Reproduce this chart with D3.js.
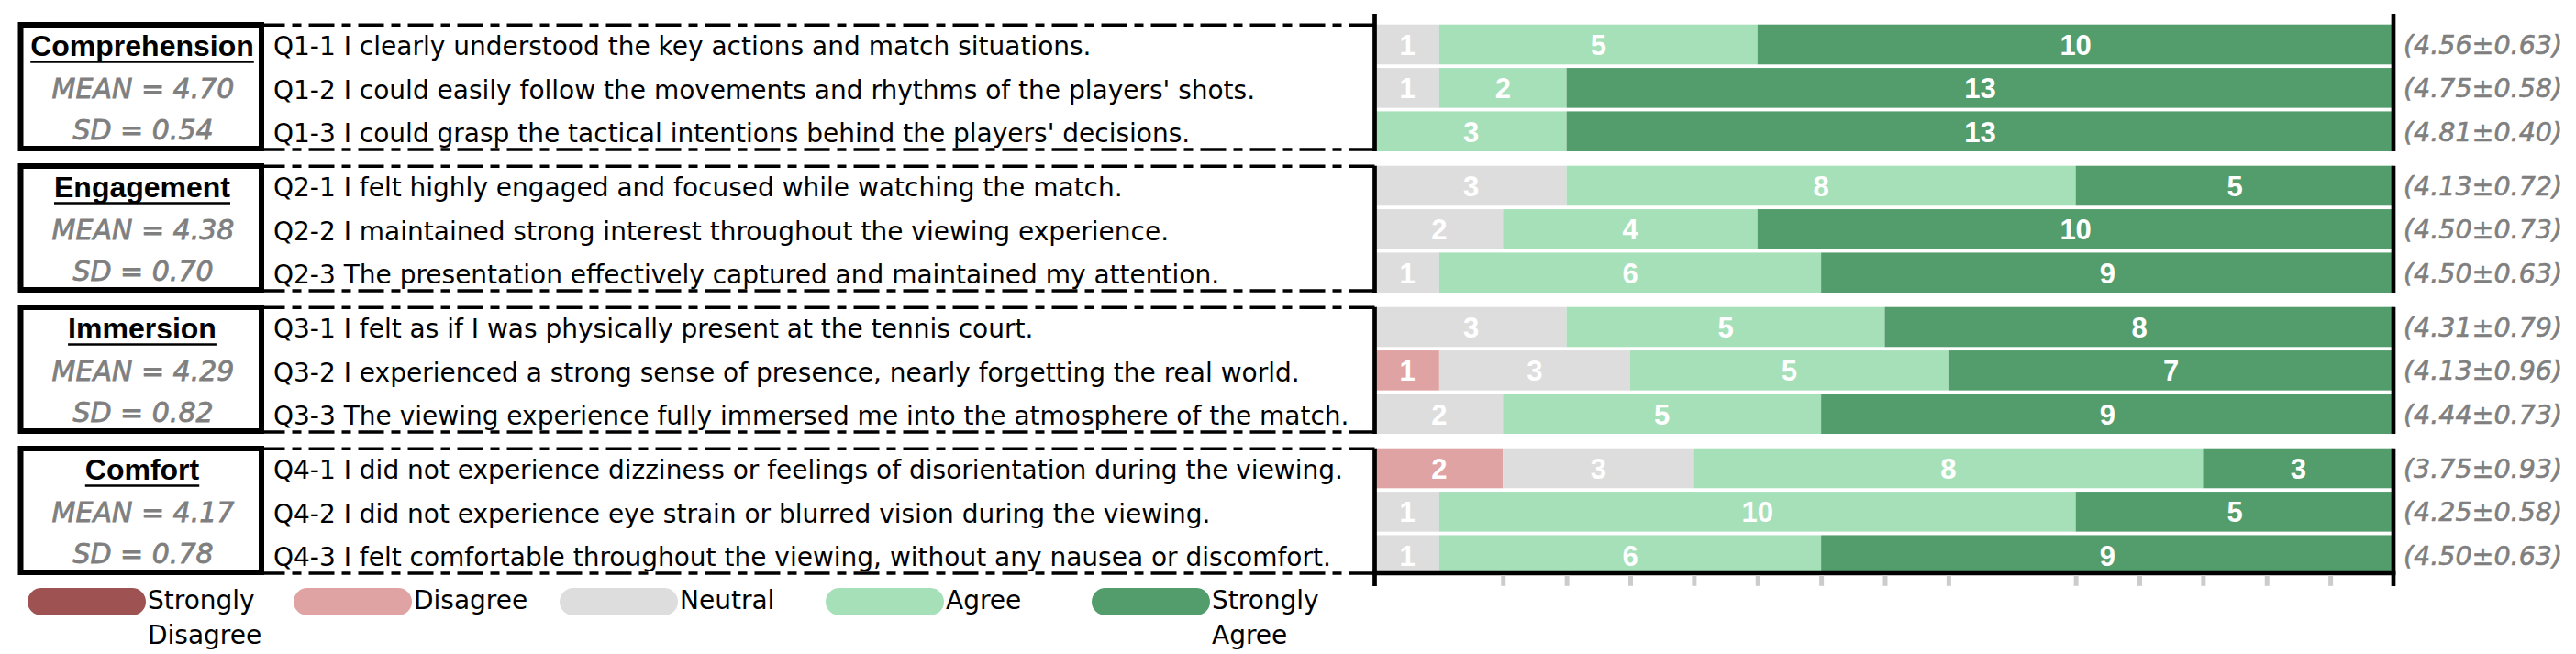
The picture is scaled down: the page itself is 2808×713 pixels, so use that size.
<!DOCTYPE html>
<html>
<head>
<meta charset="utf-8">
<script src="https://cdn.jsdelivr.net/npm/d3@7"></script>
<style>
    body { margin: 0; background: #fff; }
    svg text { font-family: "DejaVu Sans", sans-serif; }
</style>
</head>
<body>
<svg id="chart" width="2808" height="713"></svg>
<script>
// dimensions and their summary stats
var dimensions = ["Comprehension", "Engagement", "Immersion", "Comfort"];
var dimMeans = ["4.70", "4.38", "4.29", "4.17"];
var dimSds = ["0.54", "0.70", "0.82", "0.78"];

// questions, 3 per dimension
var questions = [
    "Q1-1 I clearly understood the key actions and match situations.",
    "Q1-2 I could easily follow the movements and rhythms of the players' shots.",
    "Q1-3 I could grasp the tactical intentions behind the players' decisions.",
    "Q2-1 I felt highly engaged and focused while watching the match.",
    "Q2-2 I maintained strong interest throughout the viewing experience.",
    "Q2-3 The presentation effectively captured and maintained my attention.",
    "Q3-1 I felt as if I was physically present at the tennis court.",
    "Q3-2 I experienced a strong sense of presence, nearly forgetting the real world.",
    "Q3-3 The viewing experience fully immersed me into the atmosphere of the match.",
    "Q4-1 I did not experience dizziness or feelings of disorientation during the viewing.",
    "Q4-2 I did not experience eye strain or blurred vision during the viewing.",
    "Q4-3 I felt comfortable throughout the viewing, without any nausea or discomfort."
];

// likert levels and answer counts (SD, D, N, A, SA)
var levels = ["Strongly Disagree", "Disagree", "Neutral", "Agree", "Strongly Agree"];
var levelColors = ["#9e5252", "#e0a3a3", "#dddddd", "#a6e0b9", "#529d6b"];
var counts = [
    [0, 0, 1, 5, 10],
    [0, 0, 1, 2, 13],
    [0, 0, 0, 3, 13],
    [0, 0, 3, 8, 5],
    [0, 0, 2, 4, 10],
    [0, 0, 1, 6, 9],
    [0, 0, 3, 5, 8],
    [0, 1, 3, 5, 7],
    [0, 0, 2, 5, 9],
    [0, 2, 3, 8, 3],
    [0, 0, 1, 10, 5],
    [0, 0, 1, 6, 9]
];
var itemMeans = ["4.56", "4.75", "4.81", "4.13", "4.50", "4.50", "4.31", "4.13", "4.44", "3.75", "4.25", "4.50"];
var itemSds = ["0.63", "0.58", "0.40", "0.72", "0.73", "0.63", "0.79", "0.96", "0.73", "0.93", "0.58", "0.63"];

var tickValues = [2, 3, 4, 5, 6, 7, 8, 9, 11, 12, 13, 14, 15];
var totalRespondents = 16;

var svg = d3.select("#chart");

var x = d3.scaleLinear()
    .domain([0, totalRespondents])
    .range([1499.5, 2609.5]);

var groupY = d3.scaleBand()
    .domain(dimensions)
    .range([26.7, 627])
    .paddingInner(0.102);

var rowY = d3.scaleBand()
    .domain([0, 1, 2])
    .range([0, groupY.bandwidth()])
    .paddingInner(0.08);

var axisLeftX = x(0) - 1;
var axisRightX = x(totalRespondents) - 0.5;

// stacked segments for each question
var rows = questions.map(function(q, i) {
    var start = 0;
    var segs = counts[i].map(function(c, k) {
        var s = { level: k, count: c, x0: start, x1: start + c };
        start += c;
        return s;
    });
    return { index: i, group: Math.floor(i / 3), pos: i % 3, segs: segs };
});

function rowTop(r) {
    return groupY(dimensions[r.group]) + rowY(r.pos);
}
function rowMid(r) {
    return rowTop(r) + rowY.bandwidth() / 2;
}

var rowG = svg.selectAll("g.row")
    .data(rows)
    .enter()
    .append("g")
    .attr("class", "row");

rowG.selectAll("rect")
    .data(function(r) { return r.segs.filter(function(s) { return s.count > 0; }).map(function(s) { s.row = r; return s; }); })
    .enter()
    .append("rect")
    .attr("x", function(s) { return x(s.x0); })
    .attr("width", function(s) { return x(s.x1) - x(s.x0); })
    .attr("y", function(s) { return rowTop(s.row); })
    .attr("height", rowY.bandwidth())
    .attr("fill", function(s) { return levelColors[s.level]; });

rowG.selectAll("text.count")
    .data(function(r) { return r.segs.filter(function(s) { return s.count > 0; }); })
    .enter()
    .append("text")
    .attr("class", "count")
    .attr("x", function(s) { return x((s.x0 + s.x1) / 2); })
    .attr("y", function(s) { return rowMid(s.row) + 11.5; })
    .attr("text-anchor", "middle")
    .style("font-family", "'Liberation Sans', Arial, sans-serif")
    .style("font-weight", "bold")
    .style("font-size", "31px")
    .attr("fill", "#fff")
    .text(function(s) { return s.count; });

// question texts
svg.selectAll("text.question")
    .data(rows)
    .enter()
    .append("text")
    .attr("class", "question")
    .attr("x", 298)
    .attr("y", function(r) { return rowMid(r) + 12; })
    .style("font-size", "28px")
    .attr("fill", "#000")
    .text(function(r) { return questions[r.index]; });

// mean ± sd on the right
svg.selectAll("text.stat")
    .data(rows)
    .enter()
    .append("text")
    .attr("class", "stat")
    .attr("x", 2620)
    .attr("y", function(r) { return rowMid(r) + 10.5; })
    .style("font-size", "28.5px")
    .style("font-style", "oblique")
    .attr("fill", "#7f7f7f")
    .attr("stroke", "#7f7f7f")
    .attr("stroke-width", 0.6)
    .text(function(r) { return "(" + itemMeans[r.index] + "\u00b1" + itemSds[r.index] + ")"; });

// group frames
var groups = svg.selectAll("g.group")
    .data(dimensions)
    .enter()
    .append("g")
    .attr("class", "group");

groups.append("rect")
    .attr("x", 22.5)
    .attr("y", function(d) { return groupY(d) + 0.3; })
    .attr("width", 262.5)
    .attr("height", groupY.bandwidth() - 3.3)
    .attr("fill", "none")
    .attr("stroke", "#000")
    .attr("stroke-width", 6);

// dash-dot lines, drawn right to left so the pattern starts at the bars
[0.5, -2].forEach(function(off, j) {
    groups.append("line")
        .attr("x1", axisLeftX)
        .attr("x2", 285)
        .attr("y1", function(d) { return j === 0 ? groupY(d) + off : groupY(d) + groupY.bandwidth() + off; })
        .attr("y2", function(d) { return j === 0 ? groupY(d) + off : groupY(d) + groupY.bandwidth() + off; })
        .attr("stroke", "#000")
        .attr("stroke-width", 3.5)
        .attr("stroke-dasharray", "28,8,10,8");
});

// vertical frame lines of the bar area
[axisLeftX, axisRightX].forEach(function(lx) {
    groups.append("line")
        .attr("x1", lx)
        .attr("x2", lx)
        .attr("y1", function(d, i) { return i === 0 ? 15 : groupY(d); })
        .attr("y2", function(d, i) { return i === dimensions.length - 1 ? 639 : groupY(d) + groupY.bandwidth(); })
        .attr("stroke", "#000")
        .attr("stroke-width", 4.7);
});

// dimension title + mean / sd
groups.append("text")
    .attr("class", "dim-title")
    .attr("x", 155)
    .attr("y", function(d) { return groupY(d) + rowY(0) + rowY.bandwidth() / 2 + 12.5; })
    .attr("text-anchor", "middle")
    .style("font-family", "'Liberation Sans', Arial, sans-serif")
    .style("font-weight", "bold")
    .style("font-size", "32px")
    .attr("fill", "#000")
    .text(function(d) { return d; })
    .each(function(d) {
        var w = this.getComputedTextLength();
        var y = groupY(d) + rowY(0) + rowY.bandwidth() / 2 + 19;
        d3.select(this.parentNode).append("line")
            .attr("x1", 155 - w / 2)
            .attr("x2", 155 + w / 2)
            .attr("y1", y)
            .attr("y2", y)
            .attr("stroke", "#000")
            .attr("stroke-width", 2.6);
    });

groups.append("text")
    .attr("x", 156)
    .attr("y", function(d) { return groupY(d) + rowY(1) + rowY.bandwidth() / 2 + 11; })
    .attr("text-anchor", "middle")
    .style("font-size", "30px")
    .style("font-style", "oblique")
    .attr("fill", "#7f7f7f")
    .attr("stroke", "#7f7f7f")
    .attr("stroke-width", 0.8)
    .text(function(d, i) { return "MEAN = " + dimMeans[i]; });

groups.append("text")
    .attr("x", 156)
    .attr("y", function(d) { return groupY(d) + rowY(2) + rowY.bandwidth() / 2 + 9; })
    .attr("text-anchor", "middle")
    .style("font-size", "30px")
    .style("font-style", "oblique")
    .attr("fill", "#7f7f7f")
    .attr("stroke", "#7f7f7f")
    .attr("stroke-width", 0.8)
    .text(function(d, i) { return "SD = " + dimSds[i]; });

// bottom axis: thick base line and light grey ticks
var axisY = 624.5;
svg.append("line")
    .attr("x1", axisLeftX - 2.4)
    .attr("x2", axisRightX + 2.4)
    .attr("y1", axisY)
    .attr("y2", axisY)
    .attr("stroke", "#000")
    .attr("stroke-width", 5.5);

var xAxis = svg.append("g")
    .attr("transform", "translate(0,627.3)")
    .call(d3.axisBottom(x).tickValues(tickValues).tickSize(11.5).tickFormat(""));
xAxis.select(".domain").remove();
xAxis.selectAll(".tick line")
    .attr("stroke", "#cccccc")
    .attr("stroke-width", 5);

// legend
var legend = svg.selectAll("g.legend")
    .data(levels)
    .enter()
    .append("g")
    .attr("class", "legend")
    .attr("transform", function(d, i) { return "translate(" + (30 + i * 290) + ",641)"; });

legend.append("rect")
    .attr("width", 129)
    .attr("height", 30)
    .attr("rx", 15)
    .attr("ry", 15)
    .attr("fill", function(d, i) { return levelColors[i]; });

legend.append("text")
    .attr("x", 131)
    .attr("y", 23)
    .style("font-size", "28px")
    .attr("fill", "#000")
    .selectAll("tspan")
    .data(function(d) { return d.split(" "); })
    .enter()
    .append("tspan")
    .attr("x", 131)
    .attr("dy", function(d, i) { return i === 0 ? 0 : 38; })
    .text(function(d) { return d; });
</script>
</body>
</html>
